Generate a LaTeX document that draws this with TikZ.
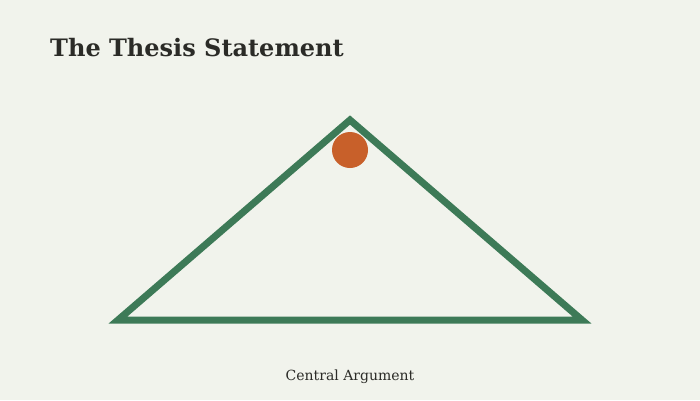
\documentclass[tikz,border=0pt]{standalone}
\usepackage{fontspec}
\setmainfont{DejaVu Serif}
\definecolor{bg}{HTML}{F1F3EC}
\definecolor{tri}{HTML}{3D7A57}
\definecolor{dot}{HTML}{C8602A}
\definecolor{ink}{HTML}{2B2B27}
\begin{document}
\begin{tikzpicture}[x=1pt,y=-1pt,
  titletext/.style={font=\bfseries\fontsize{24}{28}\selectfont, text=ink, inner sep=0pt, anchor=base west},
  captext/.style={font=\fontsize{14}{16}\selectfont, text=ink, inner sep=0pt, anchor=base},
  triline/.style={draw=tri, line width=7pt, line join=miter},
  dotstyle/.style={circle, fill=dot, minimum size=36pt, inner sep=0pt}]
\fill[bg] (0,0) rectangle (700,400);
\useasboundingbox (0,0) rectangle (700,400);
\node[titletext] (title) at (50,56) {The Thesis Statement};
\coordinate (apex) at (350,120);
\coordinate (bl) at (118,320);
\coordinate (br) at (582,320);
\draw[triline] (bl) -- (apex) -- (br) -- cycle;
\node[dotstyle] (dot) at (350,150) {};
\node[captext] (cap) at (350,380.5) {Central Argument};
\end{tikzpicture}
\end{document}
